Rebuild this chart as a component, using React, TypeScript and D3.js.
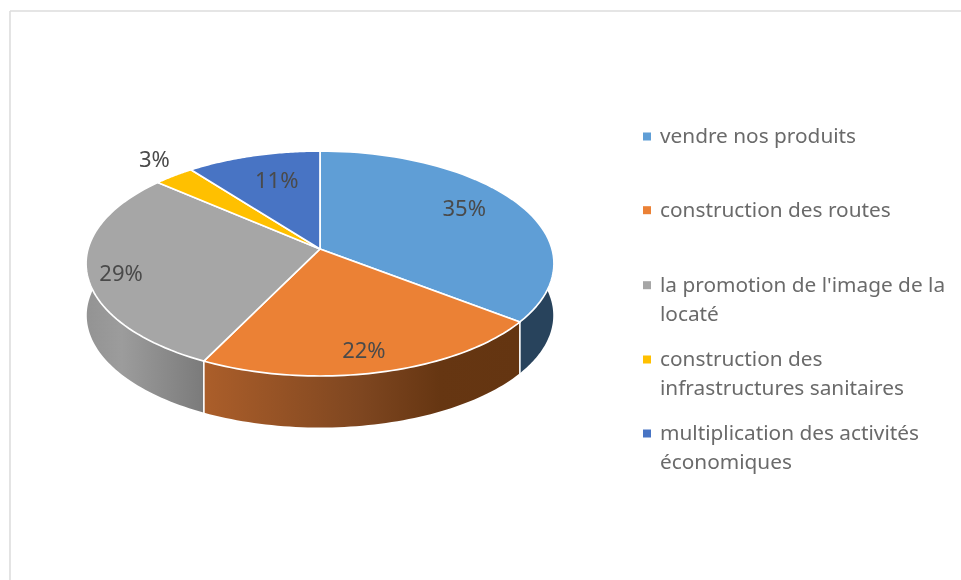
import React from "react";
import * as d3 from "d3";

const categories = [
  ["vendre nos produits"],
  ["construction des routes"],
  ["la promotion de l'image de la", "locaté"],
  ["construction des", "infrastructures sanitaires"],
  ["multiplication des activités", "économiques"],
];
const shares = [35.4, 21.9, 29.0, 3.2, 10.5];
const topColors = ["#5F9ED6", "#EB8135", "#A6A6A6", "#FFC000", "#4874C4"];

const W = 961, H = 580;
// perspective pie geometry
const apex = { x: 320, y: 249 };
const persp = 0.129, radX = 232, radY = 110.6, depth = 52;
const labelReach = [0.73, 0.83, 0.86, 1.17, 0.65];
const labelNudge = [[-1.5, -6], [-5, 1], [1, 5], [3, -5], [2, -6]];
const legendY = [143, 216.7, 291.7, 366, 440];
const lineH = 29.2;

function project(angle: number, r = 1, drop = 0): [number, number] {
  const u = Math.sin(angle) * r, v = -Math.cos(angle) * r;
  const d = 1 - persp * v;
  return [apex.x + (radX * u) / d, apex.y + (radY * v) / d + drop];
}
const samples = (a0: number, a1: number) =>
  d3.range(0, 61).map((i) => a0 + ((a1 - a0) * i) / 60);
const line = d3.line();

const pie = d3.pie<number>().sort(null)(shares);

function sidePath(a0: number, a1: number) {
  const top = samples(a0, a1).map((a) => project(a));
  const bottom = samples(a1, a0).map((a) => project(a, 0.997, depth));
  return line([...top, ...bottom]) + "Z";
}
function topPath(a0: number, a1: number) {
  return line([[apex.x, apex.y], ...samples(a0, a1).map((a) => project(a))]) + "Z";
}

export default function App() {
  const right = pie[0], orange = pie[1], gray = pie[2];
  // visible part of the wall: from the rightmost to the leftmost point of the ellipse
  const frontStart = 1.32;
  const frontEnd = Math.PI * 2 - 1.32;
  return (
    <svg
      width={W}
      height={H}
      style={{ position: "absolute", left: 0, top: 0, background: "#fff", filter: "blur(0.5px)" }}
      fontFamily="'Noto Sans', 'Open Sans', sans-serif"
    >
      <defs>
        <linearGradient id="gOrange" gradientUnits="userSpaceOnUse" x1="205" x2="518" y1="0" y2="0">
          <stop offset="0" stopColor="#AB5E2A" />
          <stop offset="0.5" stopColor="#7E4620" />
          <stop offset="0.75" stopColor="#663612" />
          <stop offset="1" stopColor="#643511" />
        </linearGradient>
        <linearGradient id="gGray" gradientUnits="userSpaceOnUse" x1="86" x2="205" y1="0" y2="0">
          <stop offset="0" stopColor="#939393" />
          <stop offset="0.3" stopColor="#9C9C9C" />
          <stop offset="1" stopColor="#7A7A7A" />
        </linearGradient>
      </defs>
      <line x1={10} y1={11} x2={W} y2={11} stroke="#DDDDDD" strokeWidth={1.6} />
      <line x1={10} y1={11} x2={10} y2={H} stroke="#DDDDDD" strokeWidth={1.6} />

      {/* walls */}
      <path d={sidePath(frontStart, right.endAngle)} fill="#28435C" stroke="none" />
      <path d={sidePath(gray.startAngle, frontEnd)} fill="url(#gGray)" stroke="none" />
      <path d={sidePath(orange.startAngle, orange.endAngle)} fill="url(#gOrange)" stroke="none" />
      {[right.endAngle, orange.endAngle].map((a, i) => {
        const p = project(a);
        return <line key={i} x1={p[0]} y1={p[1]} x2={p[0]} y2={p[1] + depth} stroke="#fff" strokeWidth={1.6} />;
      })}

      {/* top */}
      {pie.map((s, i) => (
        <path
          key={i}
          d={topPath(s.startAngle, s.endAngle)}
          fill={topColors[i]}
          stroke="#fff"
          strokeWidth={1.7}
          strokeLinejoin="round"
        />
      ))}

      {pie.map((s, i) => {
        const [x, y] = project((s.startAngle + s.endAngle) / 2, labelReach[i]);
        return (
          <text
            key={i}
            x={x + labelNudge[i][0]}
            y={y + labelNudge[i][1]}
            dy="0.35em"
            textAnchor="middle"
            fontSize={22}
            fill="#4A4A4A"
          >
            {Math.round(s.value)}%
          </text>
        );
      })}

      {categories.map((lines, i) => (
        <g key={i}>
          <rect x={643} y={legendY[i] - 10.5} width={8} height={8} fill={topColors[i]} />
          {lines.map((t, j) => (
            <text key={j} x={660} y={legendY[i] + j * lineH} fontSize={20.8} fill="#6A6A6A">
              {t}
            </text>
          ))}
        </g>
      ))}
    </svg>
  );
}
